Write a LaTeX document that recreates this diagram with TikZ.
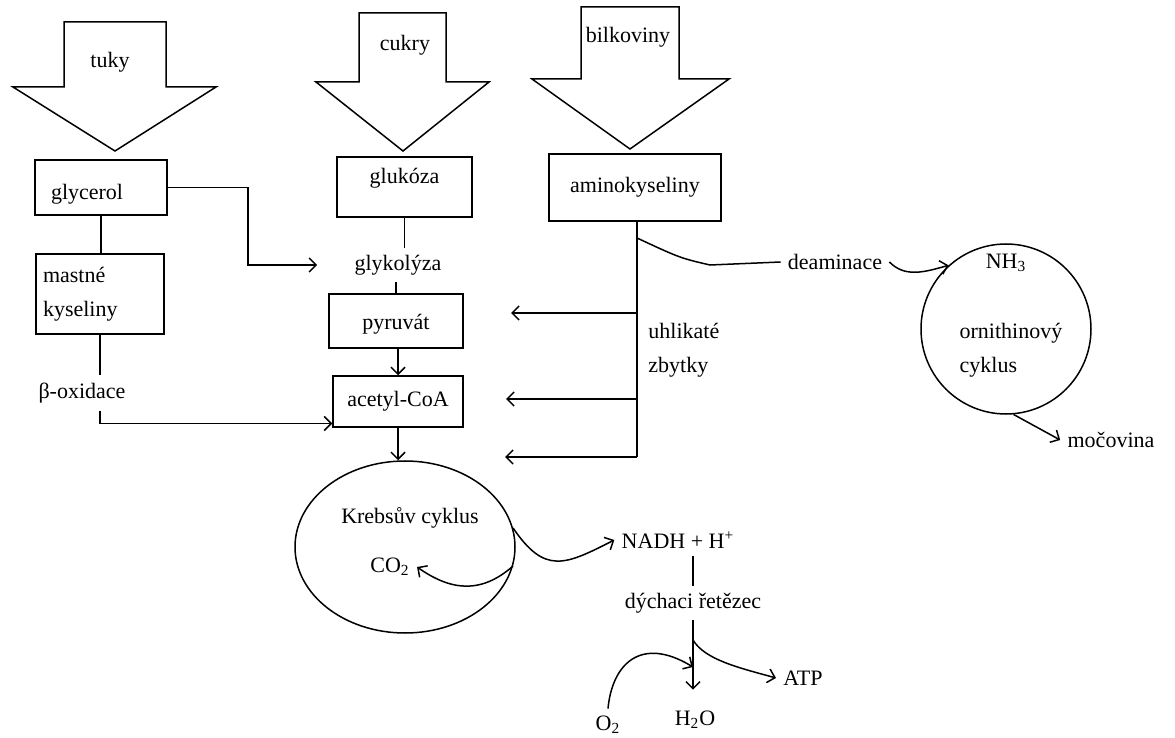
\documentclass[tikz,border=0pt]{standalone}
\usepackage{fontspec}
\setmainfont{Liberation Serif}
\usetikzlibrary{shapes.geometric,arrows.meta}
\begin{document}
\begin{tikzpicture}[x=0.5pt,y=-0.5pt,line width=0.75pt,>={Straight Barb[length=3.5pt,width=7pt]}]
\tikzstyle{every node}=[font=\fontsize{11pt}{17pt}\selectfont]
\tikzstyle{box}=[draw,inner sep=3pt]
\useasboundingbox (0,0) rectangle (1175,738);
% big arrows
\draw (64,22) -- (166,22) -- (166,87) -- (216,87) -- (115,151) -- (13,87) -- (64,87) -- cycle;
\draw (359,13) -- (446,13) -- (446,82) -- (489,82) -- (403,151) -- (316,82) -- (359,82) -- cycle;
\draw (581,7) -- (679,7) -- (679,79) -- (729,79) -- (630,149) -- (532,79) -- (581,79) -- cycle;
\node (tuky) at (110,62) {tuky};
\node (cukry) at (405,45) {cukry};
\node (bilk) at (628,37) {bilkoviny};
% boxes
\node[box,minimum width=66pt,minimum height=27.5pt,text width=50pt,align=left,text height=14pt,text depth=2pt] (glyc) at (101,187.5) {glycerol};
\node[box,minimum width=64pt,minimum height=40pt,text width=57pt,align=left] (mast) at (100,294) {mastné\\kyseliny};
\node (beta) at (82,393) {β-oxidace};
\node[box,minimum width=67.5pt,minimum height=30pt,text height=6pt,text depth=9pt] (gluk) at (404.5,187) {glukóza};
\node (glyk) at (398,265) {glykolýza};
\node[box,minimum width=67pt,minimum height=27pt,text height=10pt,text depth=2pt] (pyr) at (396,321) {pyruvát};
\node[box,minimum width=65pt,minimum height=25.5pt] (acet) at (398,401.5) {acetyl-CoA};
\node[box,minimum width=86pt,minimum height=33.5pt] (amino) at (635,187.5) {aminokyseliny};
\node[align=left,anchor=west] (uhl) at (641,350) {uhlikaté\\zbytky};
\node (deam) at (835,262) {deaminace};
% ornithine cycle
\node[draw,circle,minimum size=85pt,inner sep=0pt] (orn) at (1006,329) {};
\node (nh3) at (1006,263) {NH\textsubscript{3}};
\node[align=left] (orntext) at (1011,350) {ornithinový\\cyklus};
\node (moc) at (1111,440) {močovina};
% Krebs cycle
\node[draw,ellipse,minimum width=110pt,minimum height=86pt,inner sep=0pt] (krebs) at (405,547) {};
\node (krebstext) at (410,518) {Krebsův cyklus};
\node (co2) at (390,567) {CO\textsubscript{2}};
\node (nadh) at (678,540) {NADH + H\textsuperscript{+}};
\node (dych) at (693,603) {dýchaci řetězec};
\node (h2o) at (695,720) {H\textsubscript{2}O};
\node (o2) at (608,725) {O\textsubscript{2}};
\node (atp) at (803,678) {ATP};
% fats
\draw (glyc.south) -- (glyc.south |- mast.north);
\draw (mast.south) -- (mast.south |- beta.north);
\draw[->] (mast.south |- beta.south) |- ([yshift=-11pt]acet.west);
\draw[->] (glyc.east) -- ++(80,0) |- ([xshift=-15pt]glyk.west);
% sugars
\draw (gluk.south) -- (gluk.south |- glyk.north);
\draw (pyr.north |- glyk.south) -- (pyr.north);
\draw[->] (acet.north |- pyr.south) -- (acet.north);
\draw[->] (acet.south) -- (acet.south |- krebs.north);
% proteins
\coordinate (stem) at (637,457);
\coordinate (d0) at (637,238);
\coordinate (r1) at (511,313);
\coordinate (r2) at (506,399);
\coordinate (r3) at (505,457);
\draw (amino.south -| stem) -- (stem);
\draw[->] (stem |- r1) -- (r1);
\draw[->] (stem |- r2) -- (r2);
\draw[->] (stem) -- (r3);
\draw (d0) .. controls (680,258) .. (710,265) -- (deam.west);
\draw[->] (deam.east) .. controls (905,278) and (925,272) .. (orn.132);
\draw[->] (orn.-85) -- (moc.west);
% respiration
\coordinate (atpout) at (693,640);
\coordinate (o2in) at (693,667);
\draw[->] (krebs.-10) .. controls (480,595) and (450,590) .. (co2.east);
\draw[->] (krebs.10) .. controls (545,575) and (565,565) .. (nadh.west);
\draw (dych.north |- nadh.south) -- (dych.north);
\draw[->,shorten >=7pt] (dych.south) -- (dych.south |- h2o.north);
\draw[->] (o2.north) .. controls (612,665) and (640,635) .. (o2in);
\draw[->] (atpout) .. controls (705,660) and (740,668) .. (atp.west);
\end{tikzpicture}
\end{document}
